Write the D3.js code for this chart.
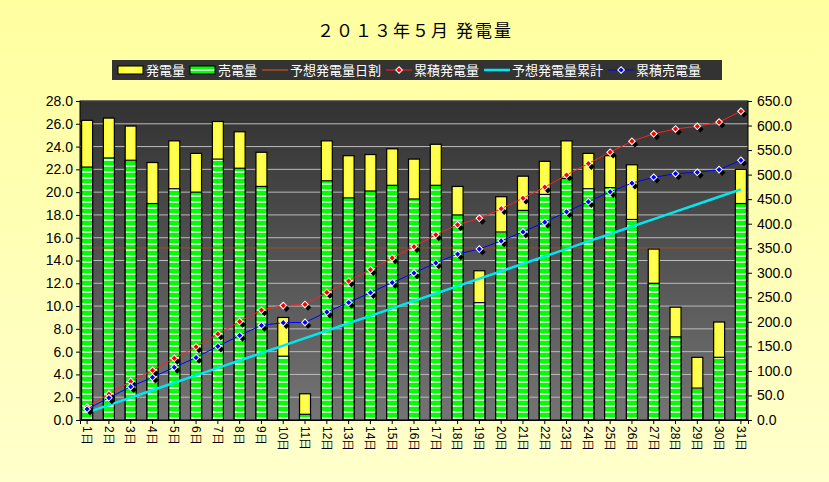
<!DOCTYPE html><html><head><meta charset="utf-8">
<script src="https://cdn.jsdelivr.net/npm/d3@7"></script>
<style>body{margin:0}svg{display:block;font-family:"Noto Sans CJK JP",sans-serif}</style></head><body>
<script>
const days = d3.range(1,32).map(d=>d+"日");
const gen = [26.3,26.5,25.8,22.6,24.5,23.4,26.2,25.3,23.5,9.0,2.3,24.5,23.2,23.3,23.8,22.9,24.2,20.5,13.1,19.6,21.4,22.7,24.5,23.4,23.2,22.4,15.0,9.9,5.5,8.6,22.0];
const sold = [22.2,23.0,22.8,19.0,20.3,20.0,22.9,22.1,20.5,5.6,0.5,21.0,19.5,20.1,20.6,19.4,20.6,18.0,10.3,16.5,18.4,19.8,21.2,20.3,20.4,17.6,12.0,7.3,2.8,5.5,19.0];
const dailyPlan = 15.1;
const cumGen = [26.3,52.8,78.6,101.2,125.7,149.1,175.3,200.6,224.1,233.1,235.4,259.9,283.1,306.4,330.2,353.1,377.3,397.8,410.9,430.5,451.9,474.6,499.1,522.5,545.7,568.1,583.1,593.0,598.5,607.1,629.1];
const cumSold = [22.2,45.2,68.0,87.0,107.3,127.3,150.2,172.3,192.8,198.4,198.9,219.9,239.4,259.5,280.1,299.5,320.1,338.1,348.4,364.9,383.3,403.1,424.3,444.6,465.0,482.6,494.6,501.9,504.7,510.2,529.2];
const cumPlan = [15.2,30.3,45.5,60.6,75.8,91.0,106.1,121.3,136.5,151.6,166.8,181.9,197.1,212.3,227.4,242.6,257.7,272.9,288.1,303.2,318.4,333.5,348.7,363.9,379.0,394.2,409.4,424.5,439.7,454.8,470.0];
const leftTicks = d3.range(0,28.1,2);
const rightTicks = d3.range(0,651,50);

const W=829,H=482,L=80,R=748,T=101,B=420;
const svg=d3.select("body").append("svg").attr("width",W).attr("height",H);
const defs=svg.append("defs");
const bg=defs.append("linearGradient").attr("id","bg").attr("x1",0).attr("y1",0).attr("x2",0).attr("y2",1);
bg.append("stop").attr("offset",0).attr("stop-color","#ffffa0");bg.append("stop").attr("offset",1).attr("stop-color","#ffffcc");
const pg=defs.append("linearGradient").attr("id","pg").attr("x1",0).attr("y1",0).attr("x2",0).attr("y2",1);
pg.append("stop").attr("offset",0).attr("stop-color","#323232");pg.append("stop").attr("offset",1).attr("stop-color","#747474");
const yg=defs.append("linearGradient").attr("id","yg").attr("x1",0).attr("y1",0).attr("x2",1).attr("y2",0);
yg.append("stop").attr("offset",0).attr("stop-color","#ffff20");yg.append("stop").attr("offset",0.5).attr("stop-color","#ffff60");yg.append("stop").attr("offset",1).attr("stop-color","#ffff20");
const gp=defs.append("pattern").attr("id","gp").attr("width",4).attr("height",6).attr("patternUnits","userSpaceOnUse");
gp.append("rect").attr("width",4).attr("height",6).attr("fill","#00ff00");
gp.append("rect").attr("y",3).attr("width",4).attr("height",2).attr("fill","#ccffcc");
svg.append("rect").attr("width",W).attr("height",H).attr("fill","url(#bg)");
svg.append("rect").attr("x",L).attr("y",T).attr("width",R-L).attr("height",B-T).attr("fill","url(#pg)");

const x=d3.scaleBand().domain(days).range([L,R]).paddingInner(0.45).paddingOuter(0.05);
const yL=d3.scaleLinear().domain([0,28]).range([B,T]);
const yR=d3.scaleLinear().domain([0,650]).range([B,T]);

svg.append("g").selectAll("line").data(leftTicks.slice(1)).join("line")
 .attr("x1",L).attr("x2",R).attr("y1",d=>yL(d)).attr("y2",d=>yL(d)).attr("stroke","#bbb").attr("stroke-width",1);

const bw=x.bandwidth()-1;
svg.append("g").selectAll("rect").data(gen).join("rect").attr("x",(d,i)=>x(days[i])+0.5).attr("width",bw)
 .attr("y",d=>yL(d)).attr("height",d=>B-yL(d)).attr("fill","url(#yg)").attr("stroke","#000").attr("stroke-width",1.2);
svg.append("g").selectAll("rect").data(sold).join("rect").attr("x",(d,i)=>x(days[i])+0.5).attr("width",bw)
 .attr("y",d=>yL(d)).attr("height",d=>B-yL(d)).attr("fill","url(#gp)").attr("stroke","#000").attr("stroke-width",1.2);

const cx=i=>x(days[i])+x.bandwidth()/2;
svg.append("line").attr("x1",cx(0)).attr("x2",cx(30)).attr("y1",yL(dailyPlan)).attr("y2",yL(dailyPlan)).attr("stroke","#c05010").attr("stroke-width",1).attr("opacity",0.7);
const ln=d3.line().x((d,i)=>cx(i)).y(d=>yR(d));
svg.append("path").attr("d",ln(cumPlan)).attr("fill","none").attr("stroke","#00e8f0").attr("stroke-width",2.5);
function markers(data,color,fill){
 svg.append("path").attr("d",ln(data)).attr("fill","none").attr("stroke",color).attr("stroke-width",1);
 const g=svg.append("g");
 g.selectAll(".s").data(data).join("path").attr("d",d3.symbol(d3.symbolSquare,22)).attr("fill","#000")
  .attr("transform",(d,i)=>`translate(${cx(i)+3},${yR(d)+3}) rotate(45)`);
 g.selectAll(".m").data(data).join("path").attr("d",d3.symbol(d3.symbolSquare,22)).attr("fill",fill).attr("stroke","#fff").attr("stroke-width",1)
  .attr("transform",(d,i)=>`translate(${cx(i)},${yR(d)}) rotate(45)`);
}
markers(cumGen,"#ff2020","#ff0000");
markers(cumSold,"#0000ff","#0000ff");

svg.append("rect").attr("x",L).attr("y",T).attr("width",R-L).attr("height",B-T).attr("fill","none").attr("stroke","#000");

const la=svg.append("g").attr("transform",`translate(${L},0)`).call(d3.axisLeft(yL).tickValues(leftTicks).tickFormat(d3.format(".1f")).tickSize(4));
const ra=svg.append("g").attr("transform",`translate(${R},0)`).call(d3.axisRight(yR).tickValues(rightTicks).tickFormat(d3.format(".1f")).tickSize(4));
[la,ra].forEach(a=>{a.select(".domain").remove();a.selectAll("text").attr("font-size",14).attr("fill","#000").attr("font-family","Liberation Sans");});
ra.selectAll("text").attr("dx",2);
const ba=svg.append("g").attr("transform",`translate(0,${B})`).call(d3.axisBottom(x).tickSize(4));
ba.select(".domain").attr("stroke","#000");
ba.selectAll("text").attr("transform","rotate(90)").attr("text-anchor","start").attr("x",6).attr("y",0).attr("dy","0.35em").attr("font-size",12).attr("fill","#000");

svg.append("text").attr("x",415).attr("y",37).attr("text-anchor","middle").attr("font-size",17).attr("letter-spacing","2px").text("２０１３年５月 発電量");

// legend
const lg=svg.append("g");
lg.append("rect").attr("x",112).attr("y",60).attr("width",610).attr("height",20).attr("fill","#333");
const items=[["発電量","ybar"],["売電量","gbar"],["予想発電量日割","orange"],["累積発電量","red"],["予想発電量累計","cyan"],["累積売電量","blue"]];
let lx=118;
items.forEach(([t,k])=>{
 const g=lg.append("g");
 if(k==="ybar") g.append("rect").attr("x",lx).attr("y",66).attr("width",25).attr("height",8).attr("fill","url(#yg)").attr("stroke","#000");
 else if(k==="gbar") g.append("rect").attr("x",lx).attr("y",66).attr("width",25).attr("height",8).attr("fill","url(#gp)").attr("stroke","#000");
 else {
  const c={orange:"#e06010",red:"#ff2020",cyan:"#00e8f0",blue:"#0000ff"}[k];
  g.append("line").attr("x1",lx).attr("x2",lx+26).attr("y1",70).attr("y2",70).attr("stroke",c).attr("stroke-width",k==="cyan"?2.5:1);
  if(k==="red"||k==="blue") g.append("path").attr("d",d3.symbol(d3.symbolSquare,22)).attr("fill",k==="red"?"#f00":"#00f").attr("stroke","#fff").attr("transform",`translate(${lx+13},70) rotate(45)`);
 }
 const tx=g.append("text").attr("x",lx+28).attr("y",75).attr("fill","#fff").attr("font-size",13).text(t);
 lx+=28+tx.node().getComputedTextLength()+5;
});
</script></body></html>
